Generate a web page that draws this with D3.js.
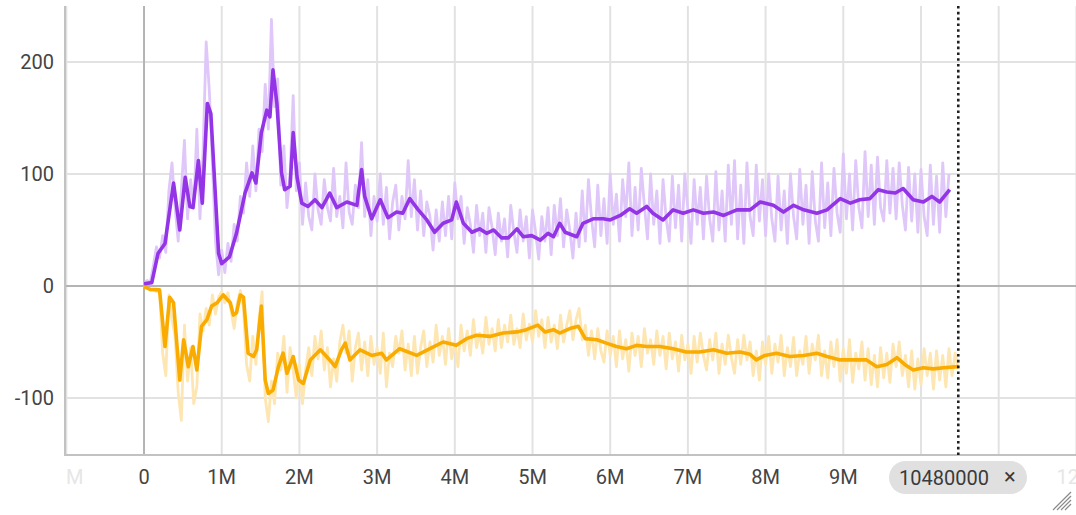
<!DOCTYPE html>
<html>
<head>
<meta charset="utf-8">
<script src="https://cdn.jsdelivr.net/npm/d3@7"></script>
<style>
  html, body { margin: 0; padding: 0; background: #fff; }
  svg { display: block; font-family: Roboto, "Noto Sans", sans-serif; }
</style>
</head>
<body>
<svg id="chart" width="1076" height="515"></svg>
<script>
// logged every 40k steps
var rawStep = 40000;

// raw reward, purple run (one value per logged step)
var purpleRaw = [2, 5, 3, 18, 35, 25, 45, 30, 85, 110, 70, 40, 85, 130, 60, 95, 70, 140, 60, 120,
  218, 175, 110, 40, 10, 32, 12, 38, 22, 55, 40, 80, 65, 110, 80, 125, 85, 140, 120, 180,
  140, 238, 160, 185, 90, 125, 70, 100, 170, 85, 110, 55, 92, 62, 50, 100, 68, 55, 95, 70,
  58, 105, 62, 80, 52, 110, 66, 55, 90, 70, 128, 62, 95, 45, 80, 58, 100, 55, 88, 42,
  75, 90, 50, 80, 60, 112, 62, 95, 50, 85, 45, 75, 62, 32, 68, 40, 75, 45, 80, 42,
  92, 60, 80, 38, 70, 55, 30, 72, 45, 65, 30, 70, 52, 28, 65, 40, 60, 26, 72, 48,
  30, 68, 40, 62, 25, 68, 48, 24, 62, 40, 70, 28, 72, 45, 78, 35, 68, 50, 25, 65,
  35, 85, 40, 95, 60, 35, 90, 45, 78, 38, 100, 55, 82, 40, 95, 62, 110, 45, 88, 50,
  105, 72, 42, 100, 55, 85, 38, 95, 60, 40, 98, 52, 90, 40, 100, 68, 38, 95, 55, 88,
  42, 98, 60, 40, 102, 50, 85, 40, 108, 55, 112, 42, 90, 38, 110, 62, 45, 108, 58, 95,
  45, 100, 60, 40, 98, 50, 85, 38, 100, 62, 42, 104, 55, 90, 38, 102, 58, 40, 110, 52,
  92, 45, 105, 65, 48, 118, 60, 100, 50, 112, 70, 52, 120, 62, 108, 55, 115, 70, 58, 112,
  65, 105, 60, 110, 72, 50, 106, 58, 100, 48, 104, 62, 45, 108, 55, 98, 48, 110, 62, 100];

// raw reward, orange run
var orangeRaw = [-0.5, -2, -4, -3, -5, -4, -60, -80, -8, -30, -45, -95, -120, -35, -85, -55, -105, -90, -25, -40,
  -20, -35, -8, -25, -10, -5, -15, -6, -22, -38, -15, -4, -20, -70, -85, -45, -70, -30, -5, -100,
  -121, -85, -105, -60, -75, -45, -95, -55, -75, -100, -70, -105, -75, -55, -80, -45, -65, -40, -75, -55,
  -90, -65, -85, -50, -35, -60, -40, -85, -55, -42, -75, -50, -80, -45, -70, -55, -78, -42, -90, -60,
  -72, -45, -60, -40, -75, -52, -80, -45, -78, -55, -40, -72, -50, -68, -35, -62, -45, -70, -38, -65,
  -50, -72, -35, -58, -40, -62, -30, -55, -42, -60, -28, -52, -38, -58, -30, -55, -35, -50, -26, -52,
  -38, -55, -25, -48, -34, -50, -22, -45, -30, -55, -28, -50, -35, -56, -26, -50, -35, -22, -48, -30,
  -20, -48, -35, -62, -40, -65, -38, -58, -68, -40, -62, -45, -72, -40, -65, -48, -76, -42, -62, -45,
  -72, -38, -60, -48, -70, -40, -62, -45, -74, -42, -65, -50, -76, -44, -66, -52, -78, -45, -68, -42,
  -62, -75, -48, -66, -42, -78, -52, -70, -44, -64, -78, -48, -70, -44, -66, -50, -80, -58, -84, -50,
  -70, -45, -78, -52, -68, -44, -80, -55, -72, -46, -80, -58, -70, -45, -78, -52, -66, -44, -80, -58,
  -82, -50, -72, -48, -85, -56, -78, -48, -86, -60, -74, -50, -84, -56, -88, -62, -90, -55, -82, -60,
  -86, -52, -72, -50, -80, -62, -90, -58, -92, -65, -88, -56, -80, -60, -92, -58, -84, -62, -90, -56,
  -80, -60, -74];

// smoothed curves (step in millions, value)
var purpleSmoothSteps = [0, 0.1, 0.18, 0.27, 0.38, 0.46, 0.53, 0.59, 0.63, 0.7, 0.75, 0.815, 0.86, 0.96, 1.0, 1.1, 1.19, 1.3, 1.39, 1.44,
  1.51, 1.58, 1.62, 1.66, 1.71, 1.77, 1.81, 1.88, 1.92, 1.97, 2.03, 2.11, 2.2, 2.29, 2.39, 2.48, 2.61, 2.74, 2.8, 2.84,
  2.93, 3.04, 3.14, 3.25, 3.33, 3.42, 3.53, 3.64, 3.74, 3.85, 3.96, 4.02, 4.11, 4.22, 4.32, 4.41, 4.5, 4.6, 4.69, 4.8,
  4.88, 4.99, 5.1, 5.2, 5.27, 5.35, 5.42, 5.57, 5.65, 5.78, 5.91, 6.0, 6.13, 6.25, 6.34, 6.47, 6.55, 6.68, 6.81, 6.94,
  7.07, 7.2, 7.33, 7.46, 7.63, 7.8, 7.93, 8.1, 8.23, 8.36, 8.49, 8.66, 8.79, 8.96, 9.09, 9.21, 9.34, 9.45, 9.56, 9.67,
  9.77, 9.9, 10.03, 10.14, 10.24, 10.37];
var purpleSmooth = [2, 3, 29, 38, 92, 50, 97, 71, 70, 112, 74, 163, 154, 29, 20, 26, 47, 83, 101, 92,
  137, 157, 151, 193, 163, 101, 86, 89, 137, 97, 74, 71, 77, 70, 83, 70, 75, 72, 104, 80,
  60, 77, 61, 66, 65, 78, 68, 59, 48, 56, 59, 75, 56, 48, 51, 47, 50, 43, 43, 51,
  44, 45, 41, 47, 44, 56, 48, 44, 56, 60, 60, 59, 63, 69, 65, 71, 65, 59, 68, 65,
  68, 65, 66, 63, 68, 68, 75, 72, 66, 72, 68, 65, 68, 78, 74, 77, 78, 86, 84, 83,
  87, 77, 75, 80, 75, 86];

var orangeSmoothSteps = [0, 0.08, 0.2, 0.27, 0.33, 0.38, 0.46, 0.51, 0.57, 0.63, 0.68, 0.74, 0.81, 0.87, 0.94, 1.02, 1.11, 1.15, 1.19, 1.24,
  1.28, 1.34, 1.41, 1.45, 1.51, 1.56, 1.6, 1.66, 1.73, 1.79, 1.84, 1.92, 1.99, 2.05, 2.14, 2.27, 2.39, 2.46, 2.54, 2.59,
  2.65, 2.78, 2.93, 3.06, 3.12, 3.29, 3.51, 3.68, 3.85, 4.02, 4.15, 4.28, 4.45, 4.62, 4.8, 4.92, 5.07, 5.16, 5.27, 5.35,
  5.48, 5.59, 5.68, 5.83, 5.95, 6.08, 6.21, 6.34, 6.47, 6.64, 6.81, 6.98, 7.15, 7.33, 7.5, 7.67, 7.8, 7.88, 7.99, 8.14,
  8.31, 8.49, 8.66, 8.79, 8.96, 9.13, 9.3, 9.43, 9.56, 9.69, 9.79, 9.9, 10.03, 10.16, 10.29, 10.48];
var orangeSmooth = [-0.5, -3, -3.5, -54, -10, -15, -84, -48, -72, -54, -75, -36, -30, -18, -15, -8, -15, -26, -24, -8,
  -10, -60, -63, -57, -18, -84, -96, -93, -72, -60, -78, -63, -84, -87, -66, -57, -66, -72, -57, -51,
  -66, -57, -62, -60, -66, -56, -62, -56, -50, -53, -47, -44, -45, -42, -41, -39, -35, -41, -39, -42,
  -38, -36, -47, -48, -51, -54, -56, -53, -54, -54, -56, -59, -59, -57, -60, -59, -61, -66, -62, -60,
  -63, -62, -60, -63, -66, -66, -66, -72, -70, -64, -70, -75, -73, -74, -73, -72];

var xTicks = [-1, 0, 1, 2, 3, 4, 5, 6, 7, 8, 9, 10, 11, 12];
var yTicks = [-100, 0, 100, 200];
var markerStep = 10480000;

var svg = d3.select("#chart"),
  plotLeft = 65, plotRight = 1076, plotTop = 6, plotBottom = 455;

var x = d3.scaleLinear().domain([-1.017e6, 11.995e6]).range([plotLeft, plotRight]);
var y = d3.scaleLinear().domain([-150.9, 250]).range([plotBottom, plotTop]);

var defs = svg.append("defs");
defs.append("clipPath").attr("id", "plot")
  .append("rect").attr("x", plotLeft).attr("y", plotTop)
  .attr("width", plotRight - plotLeft).attr("height", plotBottom - plotTop);
defs.append("clipPath").attr("id", "labels")
  .append("rect").attr("x", plotLeft + 1).attr("y", plotBottom)
  .attr("width", plotRight - plotLeft).attr("height", 60);

// grid
var grid = svg.append("g");
grid.selectAll(".vg").data(xTicks.filter(function(d) { return d != 0; })).enter().append("line")
  .attr("x1", function(d) { return x(d * 1e6); }).attr("x2", function(d) { return x(d * 1e6); })
  .attr("y1", plotTop).attr("y2", plotBottom)
  .attr("stroke", "#e2e2e2").attr("stroke-width", 2);
grid.selectAll(".hg").data(yTicks.filter(function(d) { return d != 0; })).enter().append("line")
  .attr("x1", plotLeft).attr("x2", plotRight)
  .attr("y1", function(d) { return y(d); }).attr("y2", function(d) { return y(d); })
  .attr("stroke", "#e2e2e2").attr("stroke-width", 2);

// zero lines
grid.append("line").attr("x1", x(0)).attr("x2", x(0)).attr("y1", plotTop).attr("y2", plotBottom)
  .attr("stroke", "#b4b4b4").attr("stroke-width", 2);
grid.append("line").attr("x1", plotLeft).attr("x2", plotRight).attr("y1", y(0)).attr("y2", y(0))
  .attr("stroke", "#b4b4b4").attr("stroke-width", 2);

// axis lines
svg.append("line").attr("x1", plotLeft).attr("x2", plotLeft).attr("y1", plotTop).attr("y2", plotBottom + 1)
  .attr("stroke", "#c2c2c2").attr("stroke-width", 2);
svg.append("line").attr("x1", plotLeft).attr("x2", plotRight).attr("y1", plotBottom).attr("y2", plotBottom)
  .attr("stroke", "#c2c2c2").attr("stroke-width", 2);

var rawLine = d3.line()
  .x(function(d, i) { return x(i * rawStep); })
  .y(function(d) { return y(d); });

var smoothLine = d3.line()
  .x(function(d) { return x(d[0] * 1e6); })
  .y(function(d) { return y(d[1]); });

var lines = svg.append("g").attr("clip-path", "url(#plot)");

lines.append("path").datum(purpleRaw).attr("d", rawLine)
  .attr("fill", "none").attr("stroke", "#e0c7f9").attr("stroke-width", 2.8).attr("stroke-linejoin", "round");
lines.append("path").datum(orangeRaw).attr("d", rawLine)
  .attr("fill", "none").attr("stroke", "#fde6b2").attr("stroke-width", 2.8).attr("stroke-linejoin", "round");

lines.append("path").datum(d3.zip(orangeSmoothSteps, orangeSmooth)).attr("d", smoothLine)
  .attr("fill", "none").attr("stroke", "#f9ab00").attr("stroke-width", 3.6).attr("stroke-linejoin", "round");
lines.append("path").datum(d3.zip(purpleSmoothSteps, purpleSmooth)).attr("d", smoothLine)
  .attr("fill", "none").attr("stroke", "#9334e6").attr("stroke-width", 3.6).attr("stroke-linejoin", "round");

// step marker
svg.append("line").attr("x1", x(markerStep)).attr("x2", x(markerStep)).attr("y1", plotTop).attr("y2", plotBottom)
  .attr("stroke", "#202020").attr("stroke-width", 2.6).attr("stroke-dasharray", "2.6,3.2");

// y labels
svg.append("g").selectAll("text").data(yTicks).enter().append("text")
  .attr("x", 54).attr("y", function(d) { return y(d); })
  .attr("dy", "0.36em").attr("text-anchor", "end")
  .attr("font-size", 20).attr("fill", "#444")
  .text(function(d) { return d; });

// x labels (the 10M one sits under the step badge)
svg.append("g").attr("clip-path", "url(#labels)").selectAll("text")
  .data(xTicks.filter(function(d) { return d != 10; })).enter().append("text")
  .attr("x", function(d) { return x(d * 1e6); }).attr("y", 484)
  .attr("text-anchor", "middle").attr("font-size", 20)
  .attr("fill", function(d) { return (d < 0 || d > 11) ? "#e6e6e6" : "#444"; })
  .text(function(d) { return d == 0 ? "0" : d + "M"; });

// step badge
var badge = svg.append("g");
badge.append("rect").attr("x", 889).attr("y", 461).attr("width", 138).attr("height", 33)
  .attr("rx", 16.5).attr("fill", "#e0e0e0");
badge.append("text").attr("x", 899).attr("y", 485).attr("font-size", 20).attr("fill", "#3a3a3a")
  .text(markerStep);
badge.append("text").attr("x", 1004).attr("y", 484).attr("font-size", 22).attr("fill", "#3a3a3a")
  .text("×");

// resize handle
var handle = svg.append("g").attr("stroke", "#8a8a8a").attr("stroke-width", 1.2);
[0, 4, 8, 12].forEach(function(o) {
  handle.append("line").attr("x1", 1053 + o).attr("y1", 510).attr("x2", 1071).attr("y2", 492 + o);
});
</script>
</body>
</html>
